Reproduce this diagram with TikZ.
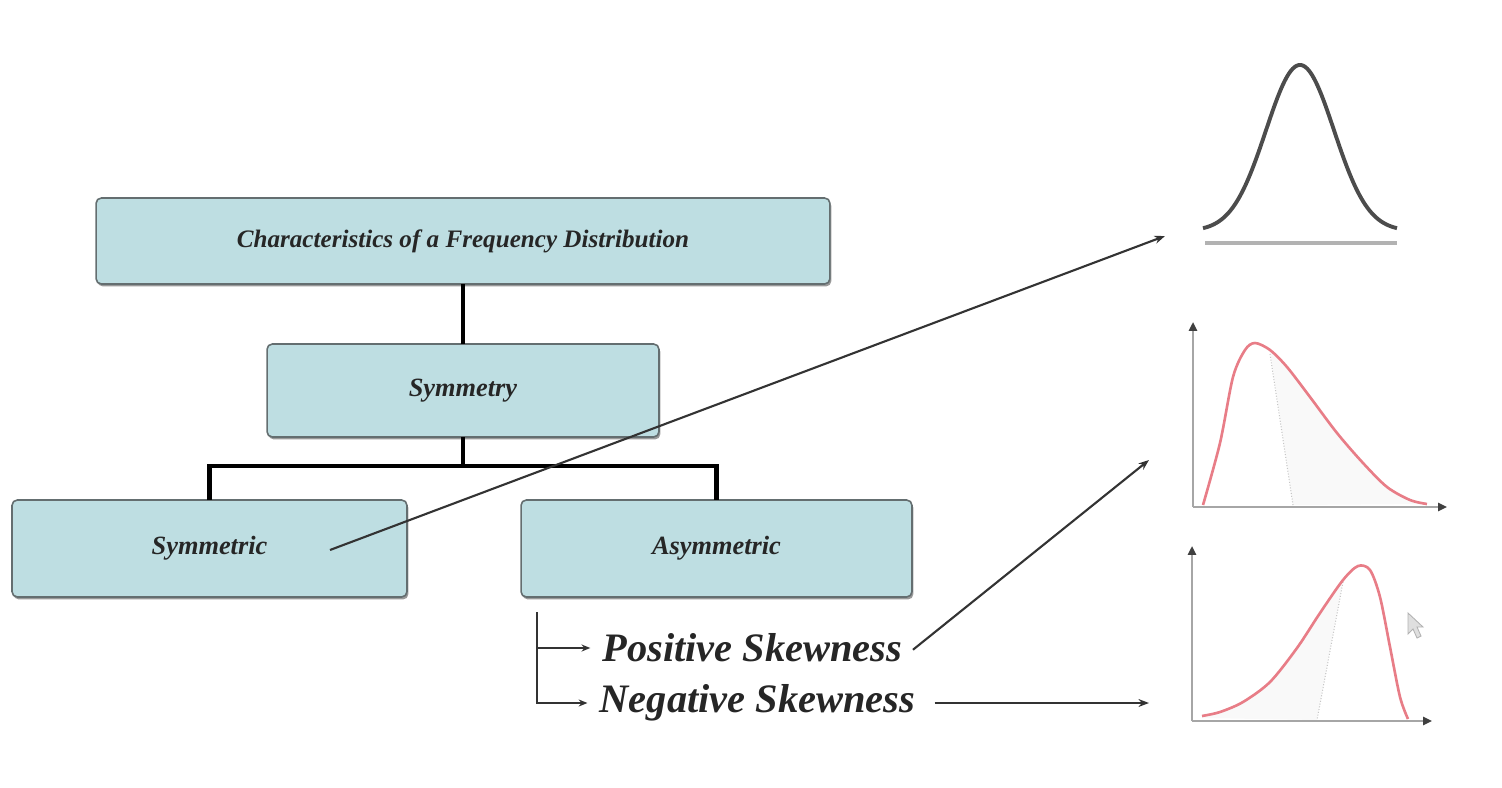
\documentclass[tikz,border=0pt]{standalone}
\usepackage{fontspec}
\setmainfont{Liberation Serif}
\usetikzlibrary{arrows.meta,shadows}
\definecolor{boxfill}{RGB}{190,222,226}
\definecolor{boxline}{RGB}{100,110,112}
\definecolor{skewred}{RGB}{232,125,135}
\begin{document}
\begin{tikzpicture}[x=0.02cm,y=-0.02cm,
  catbox/.style={draw=boxline, line width=0.9pt, fill=boxfill, rounded corners=3pt,
    drop shadow={shadow xshift=0.8pt, shadow yshift=-1.4pt, fill=black!50, opacity=0.8},
    font=\bfseries\itshape\fontsize{15}{18}\selectfont, text=black!85, inner sep=0pt, outer sep=0pt},
  tree/.style={line width=2.3pt, black},
  pointer/.style={line width=1.2pt, black!80, -{Stealth[length=6pt,width=4.5pt]}},
  bracket/.style={line width=1.1pt, black!80, -{Stealth[length=5pt,width=4pt]}},
  skewlabel/.style={font=\bfseries\itshape\fontsize{23}{26}\selectfont, text=black!85, inner sep=12*0.02cm},
  axis/.style={draw=gray!70, line width=1.3pt, -{Triangle[length=5pt,width=4.5pt,color=black!75]}},
  curve/.style={skewred, line width=1.5pt},
  median/.style={gray!45, densely dotted, line width=0.6pt}]
\useasboundingbox (0,0) rectangle (1502,788);

% classification tree
\node[catbox, minimum width=14.68cm, minimum height=1.72cm, font=\bfseries\itshape\fontsize{14.3}{17}\selectfont] (top) at (463,241) {Characteristics of a Frequency Distribution};
\node[catbox, minimum width=7.84cm, minimum height=1.86cm] (sym) at (463,390.5) {Symmetry};
\node[catbox, minimum width=7.9cm, minimum height=1.94cm] (symc) at (209.5,548.5) {Symmetric};
\node[catbox, minimum width=7.82cm, minimum height=1.94cm] (asym) at (716.5,548.5) {Asymmetric};

\coordinate (split) at (463,466);
\draw[tree] (top.south) -- (sym.north);
\draw[tree] (sym.south) -- (split);
\draw[tree] (symc.north) |- (split) -| (asym.north);

% kinds of asymmetry
\node[skewlabel] (pos) at (752.5,648) {Positive Skewness};
\node[skewlabel] (neg) at (757.5,703) {Negative Skewness};
\coordinate (brtop) at (537,612);
\draw[bracket] (brtop) |- (neg.west);
\draw[bracket] (brtop |- pos.west) -- (pos.west);

% pointers to the curves
\coordinate (symtail) at (330,550);
\coordinate (normtip) at (1165,236);
\coordinate (postip) at (1149,460);
\coordinate (negtip) at (1149,703);
\draw[pointer] (symtail) -- (normtip);
\draw[pointer] ([xshift=-1pt,yshift=-1pt]pos.east) -- (postip);
\draw[pointer] ([xshift=4pt]neg.east) -- (negtip);

% symmetric curve
\draw[gray!60, line width=2.2pt] (1205,243) -- (1397,243);
\draw[black!70, line width=2.2pt] plot[domain=1203:1397, samples=120, smooth]
  (\x, {231-166*exp(-((\x-1300)^2)/2312)});

% positively skewed curve
\fill[gray!5] plot[smooth] coordinates {(1270,350) (1287,367) (1310,397) (1337,433) (1363,463) (1387,487) (1410,500) (1427,504)} -- (1293,505) -- cycle;
\draw[median] (1270,354) -- (1293,505);
\draw[axis] (1193,507) -- (1193,322);
\draw[axis] (1193,507) -- (1447,507);
\draw[curve] plot[smooth] coordinates {(1203,505) (1220,443) (1233,377) (1245,350) (1255,343) (1270,350) (1287,367) (1310,397) (1337,433) (1363,463) (1387,487) (1410,500) (1427,504)};

% negatively skewed curve
\fill[gray!5] plot[smooth] coordinates {(1202,718) (1220,712) (1243,702) (1270,682) (1297,648) (1320,613) (1343,580)} -- (1317,720) -- cycle;
\draw[median] (1343,582) -- (1317,720);
\draw[axis] (1192,721) -- (1192,546);
\draw[axis] (1192,721) -- (1432,721);
\draw[curve] plot[smooth] coordinates {(1202,716) (1220,712) (1243,702) (1270,682) (1297,648) (1320,613) (1343,580) (1358,566) (1370,570) (1380,597) (1390,647) (1400,697) (1408,719)};

% mouse pointer
\draw[gray!60, fill=gray!25, line width=0.5pt] (1408,613) -- (1408,634) -- (1413,629) -- (1417,638) -- (1421,636) -- (1417,627) -- (1423,627) -- cycle;
\end{tikzpicture}
\end{document}
